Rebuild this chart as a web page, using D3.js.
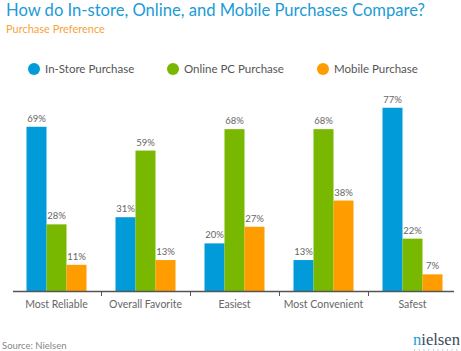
<!DOCTYPE html>
<html><head><meta charset="utf-8">
<script src="https://cdn.jsdelivr.net/npm/d3@7"></script>
<style>body{margin:0;background:#fff}svg{display:block;font-family:Lato,sans-serif}</style>
</head><body>
<script>
const categories = ["Most Reliable","Overall Favorite","Easiest","Most Convenient","Safest"];
const seriesNames = ["In-Store Purchase","Online PC Purchase","Mobile Purchase"];
const inStore = [69,31,20,13,77];
const onlinePC = [28,59,68,68,22];
const mobile = [11,13,27,38,7];
const colors = ["#009bd8","#78b800","#ff9c00"];
const series = [inStore, onlinePC, mobile];

const W=461,H=351;
const svg=d3.select("body").append("svg").attr("width",W).attr("height",H);

const title=svg.append("text").attr("x",6).attr("y",16).attr("fill","#1b9bd7").attr("font-size",17)
  .text("How do In-store, Online, and Mobile Purchases Compare?");
const tw=title.node().getComputedTextLength();
if(tw>419) title.attr("textLength",419).attr("lengthAdjust","spacingAndGlyphs");
svg.append("text").attr("x",6).attr("y",33).attr("fill","#f7a33c").attr("font-size",11)
  .text("Purchase Preference");

const legX=[34,173,323];
const leg=svg.append("g");
seriesNames.forEach((s,i)=>{
  leg.append("circle").attr("cx",legX[i]).attr("cy",69).attr("r",6).attr("fill",colors[i]);
  leg.append("text").attr("x",legX[i]+11).attr("y",73).attr("fill","#555").attr("font-size",11.5).text(s);
});

const baseY=291;
const x0=d3.scaleBand().domain(categories).range([12,457]);
const x1=d3.scaleBand().domain(d3.range(3)).range([0,60]);
const off=(x0.bandwidth()-60)/2;
const y=d3.scaleLinear().domain([0,80]).range([baseY,baseY-190.4]);

const g=svg.append("g");
series.forEach((vals,si)=>{
  categories.forEach((c,ci)=>{
    const xx=x0(c)+off+x1(si);
    g.append("rect").attr("x",xx).attr("y",y(vals[ci])).attr("width",x1.bandwidth()).attr("height",baseY-y(vals[ci])).attr("fill",colors[si]);
    g.append("text").attr("x",xx+x1.bandwidth()/2).attr("y",y(vals[ci])-5).attr("text-anchor","middle")
      .attr("fill","#666").attr("font-size",9.5).text(vals[ci]+"%");
  });
});

// axis
svg.append("line").attr("x1",13).attr("x2",454).attr("y1",baseY+0.5).attr("y2",baseY+0.5).attr("stroke","#555").attr("stroke-width",1.3);
categories.slice(1).forEach(c=>{
  svg.append("line").attr("x1",Math.round(x0(c))+0.5).attr("x2",Math.round(x0(c))+0.5).attr("y1",baseY).attr("y2",baseY+5).attr("stroke","#555");
});
categories.forEach(c=>{
  svg.append("text").attr("x",x0(c)+x0.bandwidth()/2).attr("y",308).attr("text-anchor","middle")
    .attr("fill","#666").attr("font-size",10.5).text(c);
});

svg.append("text").attr("x",2).attr("y",349).attr("fill","#888").attr("font-size",9.5).text("Source: Nielsen");
const logo=svg.append("text").attr("x",413).attr("y",345).attr("style","font-family:'Liberation Serif','DejaVu Serif',serif;font-weight:normal").attr("font-size",17).attr("fill","#3a4a5c");
logo.append("tspan").attr("fill","#1b9bd7").text("n");
logo.append("tspan").text("ielsen");
const lw=logo.node().getComputedTextLength();
if(lw>47) logo.attr("textLength",47).attr("lengthAdjust","spacingAndGlyphs");
for(let i=0;i<10;i++){
  svg.append("rect").attr("x",414+i*4.7).attr("y",349.5).attr("width",1).attr("height",1).attr("fill","#8899aa");
}
</script>
</body></html>
